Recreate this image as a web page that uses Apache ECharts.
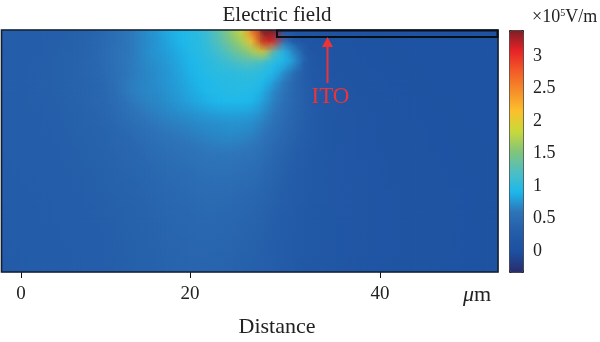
<!DOCTYPE html>
<html>
<head>
<meta charset="utf-8">
<style>html,body{margin:0;padding:0;background:#fff}#main{width:600px;height:342px}</style>
<script src="https://cdn.jsdelivr.net/npm/echarts@6/dist/echarts.min.js"></script>
</head>
<body>
<div id="main"></div>
<script>
// field values (x1e5 V/m), one row per 10px from the top
var row00 = [.30,.30,.30,.31,.32,.32,.33,.35,.38,.42,.48,.55,.62,.68,.74,.80,.88,.94,.98,1.05,1.20,1.40,1.65,1.90,2.70,3.40,3.40,.12,.10,.09,.09,.08,.08,.08,.07,.07,.07,.07,.06,.06,.06,.05,.05,.05,.05,.05,.05,.05];
var row01 = [.30,.30,.30,.31,.32,.33,.34,.36,.40,.45,.50,.56,.62,.68,.73,.78,.85,.92,.97,1.02,1.15,1.32,1.52,1.70,2.15,3.20,3.00,.60,.15,.12,.10,.09,.09,.08,.08,.07,.07,.07,.06,.06,.06,.05,.05,.05,.05,.05,.05,.05];
var row02 = [.30,.30,.31,.31,.32,.33,.35,.37,.40,.45,.52,.58,.62,.68,.74,.78,.82,.88,.95,1.00,1.08,1.20,1.35,1.48,1.65,1.95,1.20,.95,.65,.20,.14,.10,.09,.09,.08,.08,.07,.07,.07,.06,.06,.06,.05,.05,.05,.05,.05,.05];
var row03 = [.30,.30,.31,.32,.33,.34,.35,.38,.41,.45,.52,.58,.63,.68,.72,.75,.80,.86,.92,.98,1.02,1.08,1.16,1.25,1.25,1.10,.98,.90,.75,.25,.16,.12,.10,.09,.09,.08,.08,.07,.07,.07,.06,.06,.06,.05,.05,.05,.05,.05];
var row04 = [.30,.30,.31,.32,.33,.34,.36,.38,.41,.44,.50,.57,.62,.67,.70,.74,.78,.84,.90,.95,1.00,1.02,1.02,1.04,1.05,1.00,.92,.72,.45,.25,.17,.13,.11,.10,.09,.09,.08,.08,.07,.07,.07,.06,.06,.06,.05,.05,.05,.05];
var row05 = [.30,.30,.31,.32,.33,.34,.36,.38,.40,.43,.48,.57,.64,.68,.70,.74,.78,.82,.88,.92,.95,.98,1.00,1.00,1.00,.92,.78,.60,.42,.28,.20,.15,.12,.11,.10,.09,.09,.08,.08,.07,.07,.07,.06,.06,.06,.05,.05,.05];
var row06 = [.30,.30,.31,.32,.33,.34,.35,.38,.40,.42,.47,.55,.64,.68,.70,.72,.76,.80,.85,.90,.95,.96,.98,.97,.95,.85,.68,.55,.42,.30,.22,.17,.14,.12,.11,.10,.09,.09,.08,.08,.07,.07,.07,.06,.06,.06,.06,.05];
var row07 = [.30,.30,.31,.31,.32,.33,.35,.37,.39,.42,.46,.52,.60,.65,.68,.70,.74,.78,.82,.86,.90,.92,.93,.92,.90,.78,.65,.52,.42,.30,.22,.17,.15,.13,.12,.11,.10,.09,.09,.08,.08,.07,.07,.07,.06,.06,.06,.06];
var row08 = [.30,.30,.30,.31,.32,.33,.34,.36,.38,.40,.44,.50,.56,.61,.65,.68,.70,.73,.75,.78,.80,.82,.83,.82,.80,.72,.60,.50,.40,.30,.23,.18,.15,.14,.12,.11,.10,.10,.09,.08,.08,.08,.07,.07,.07,.06,.06,.06];
var row09 = [.29,.30,.30,.31,.32,.32,.34,.36,.37,.39,.42,.47,.52,.56,.60,.64,.66,.68,.70,.72,.73,.74,.75,.74,.72,.65,.55,.46,.38,.30,.23,.18,.16,.14,.13,.12,.11,.10,.09,.09,.08,.08,.07,.07,.07,.07,.06,.06];
var row10 = [.29,.30,.30,.30,.31,.32,.33,.35,.36,.38,.40,.43,.46,.51,.56,.60,.62,.64,.66,.68,.70,.71,.72,.70,.68,.60,.52,.44,.36,.29,.23,.19,.16,.14,.13,.12,.11,.10,.10,.09,.09,.08,.08,.07,.07,.07,.06,.06];
var row11 = [.29,.29,.30,.30,.31,.31,.32,.34,.35,.37,.39,.42,.44,.48,.52,.55,.57,.60,.62,.64,.66,.67,.67,.65,.62,.55,.48,.41,.34,.28,.23,.19,.16,.15,.13,.12,.11,.11,.10,.09,.09,.08,.08,.08,.07,.07,.07,.06];
var row12 = [.29,.29,.29,.30,.30,.31,.32,.33,.35,.36,.38,.40,.42,.45,.49,.52,.54,.56,.58,.60,.62,.62,.62,.60,.58,.51,.44,.37,.30,.26,.22,.19,.17,.15,.13,.12,.11,.11,.10,.10,.09,.09,.08,.08,.07,.07,.07,.07];
var row13 = [.28,.29,.29,.29,.30,.30,.31,.33,.34,.35,.37,.39,.41,.43,.46,.49,.51,.53,.55,.57,.58,.58,.58,.56,.54,.48,.41,.35,.29,.25,.22,.19,.17,.15,.14,.12,.12,.11,.10,.10,.09,.09,.08,.08,.08,.07,.07,.07];
var row14 = [.28,.28,.29,.29,.30,.30,.31,.32,.33,.34,.36,.38,.40,.42,.44,.47,.49,.50,.52,.54,.55,.55,.54,.52,.50,.45,.39,.33,.28,.24,.21,.19,.17,.15,.14,.13,.12,.11,.11,.10,.10,.09,.09,.08,.08,.07,.07,.07];
var row15 = [.28,.28,.28,.29,.29,.30,.30,.31,.32,.34,.35,.37,.38,.40,.43,.45,.47,.48,.50,.51,.52,.52,.51,.49,.47,.42,.37,.32,.27,.24,.21,.19,.17,.15,.14,.13,.12,.11,.11,.10,.10,.09,.09,.08,.08,.08,.07,.07];
var row16 = [.28,.28,.28,.28,.29,.29,.30,.31,.32,.33,.34,.36,.37,.39,.41,.44,.45,.46,.48,.49,.49,.49,.48,.46,.44,.40,.35,.30,.26,.23,.21,.19,.17,.15,.14,.13,.12,.12,.11,.10,.10,.09,.09,.09,.08,.08,.07,.07];
var row17 = [.27,.28,.28,.28,.28,.29,.30,.30,.31,.32,.33,.35,.36,.38,.40,.42,.44,.45,.46,.47,.47,.47,.46,.44,.42,.38,.34,.29,.26,.23,.20,.18,.17,.15,.14,.13,.12,.12,.11,.11,.10,.10,.09,.09,.08,.08,.07,.07];
var row18 = [.27,.27,.28,.28,.28,.29,.29,.30,.31,.32,.33,.34,.36,.37,.39,.41,.43,.44,.45,.46,.46,.45,.44,.42,.40,.36,.32,.28,.25,.22,.20,.18,.16,.15,.14,.13,.12,.12,.11,.11,.10,.10,.09,.09,.08,.08,.07,.07];
var row19 = [.27,.27,.27,.28,.28,.28,.29,.30,.30,.31,.32,.34,.35,.36,.38,.40,.42,.43,.44,.44,.44,.43,.42,.40,.38,.35,.31,.27,.24,.22,.20,.18,.16,.15,.14,.13,.12,.12,.11,.11,.10,.10,.09,.09,.08,.08,.07,.07];
var row20 = [.27,.27,.27,.27,.28,.28,.29,.29,.30,.31,.32,.33,.35,.36,.37,.39,.41,.42,.43,.43,.43,.42,.41,.39,.37,.34,.30,.27,.24,.21,.19,.18,.16,.15,.14,.13,.12,.12,.11,.11,.10,.10,.09,.09,.08,.08,.07,.07];
var row21 = [.26,.27,.27,.27,.28,.28,.28,.29,.30,.31,.32,.33,.34,.35,.37,.39,.40,.41,.42,.42,.42,.41,.40,.38,.36,.33,.30,.26,.23,.21,.19,.17,.16,.15,.14,.13,.12,.12,.11,.10,.10,.10,.09,.09,.08,.08,.07,.07];
var row22 = [.26,.26,.27,.27,.27,.28,.28,.29,.30,.30,.31,.33,.34,.35,.36,.38,.40,.41,.41,.41,.41,.40,.39,.37,.35,.32,.29,.26,.23,.21,.19,.17,.16,.14,.13,.13,.12,.11,.11,.10,.10,.09,.09,.09,.08,.08,.07,.07];
var row23 = [.26,.26,.27,.27,.27,.28,.28,.29,.29,.30,.31,.32,.34,.35,.36,.38,.39,.40,.41,.41,.40,.39,.38,.36,.34,.32,.29,.26,.23,.20,.19,.17,.16,.14,.13,.12,.12,.11,.11,.10,.10,.09,.09,.08,.08,.08,.07,.07];
var fieldRows = [row00,row01,row02,row03,row04,row05,row06,row07,row08,row09,row10,row11,row12,row13,row14,row15,row16,row17,row18,row19,row20,row21,row22,row23];

var xCols = row00.map(function(v,i){return i});
var yRows = fieldRows.map(function(v,i){return i});
var xTickPos = [0, 18.83, 40];       // the 20 tick sits left of the even spot in the original
var xTickLabels = ['0', '20', '40'];
var barTicks = [0, 0.5, 1, 1.5, 2, 2.5, 3];
var barColors = ['#2a2c6a','#1c4fa0','#245da9','#2e74b8','#1cb8ec','#4fbfc0','#82c47a','#c9d93a','#fcc02c','#f68e2a','#f25a27','#e72227','#7d1f25'];

var heat = [];
fieldRows.forEach(function(r,j){
    r.forEach(function(v,i){ heat.push([i,j,v]) })
})

// soft round patch per cell, hides the blocks of the heatmap below
function softCell(params, api){
    var p = api.coord([api.value(0), api.value(1)]);
    var s = api.size([1, 1]);
    var c = api.visual('color');
    return {
        type: 'rect',
        shape: {x: p[0]-s[0]*1.5, y: p[1]-s[1]*1.5, width: s[0]*3, height: s[1]*3},
        style: {
            fill: new echarts.graphic.RadialGradient(0.5, 0.5, 0.5, [
                {offset: 0, color: echarts.color.modifyAlpha(c, 0.85)},
                {offset: 1, color: echarts.color.modifyAlpha(c, 0)}
            ])
        }
    };
}

var serif = '"Liberation Serif", serif';
var red = '#ee3336';
var myC = echarts.init(document.getElementById('main'));
myC.setOption({
    backgroundColor: '#fff',
    animation: false,
    grid: [
        {left: 2, top: 30, width: 496, height: 242},
        {left: 509, top: 30, width: 14, height: 242}
    ],
    xAxis: [
        {type: 'category', data: xCols, gridIndex: 0, show: false},
        {
            type: 'value', gridIndex: 0, position: 'bottom', min: -2.117, max: 53.15,
            splitLine: {show: false},
            axisLine: {show: false},
            axisTick: {show: true, customValues: xTickPos, length: 6, lineStyle: {color: '#111', width: 1}},
            axisLabel: {
                customValues: xTickPos, margin: 13, color: '#222', fontFamily: serif, fontSize: 19,
                formatter: function(v){ return xTickLabels[xTickPos.indexOf(v)] }
            }
        },
        {type: 'value', gridIndex: 1, show: false}
    ],
    yAxis: [
        {type: 'category', data: yRows, gridIndex: 0, inverse: true, show: false},
        {
            type: 'value', gridIndex: 1, position: 'right', min: -0.32, max: 3.4,
            splitLine: {show: false},
            axisLine: {show: false},
            axisTick: {show: true, customValues: barTicks, length: 5, lineStyle: {color: '#111', width: 1}},
            axisLabel: {customValues: barTicks, margin: 10, color: '#222', fontFamily: serif, fontSize: 18}
        }
    ],
    visualMap: {
        type: 'continuous', min: -0.32, max: 3.4, seriesIndex: [0, 2], dimension: 2,
        left: 509, top: 30, itemWidth: 14, itemHeight: 242, padding: 0,
        calculable: false, showLabel: false, text: null,
        borderColor: '#222', borderWidth: 1,
        inRange: {color: barColors}
    },
    series: [
        {type: 'heatmap', xAxisIndex: 0, yAxisIndex: 0, data: heat, progressive: 0, itemStyle: {borderWidth: 0}},
        {type: 'line', xAxisIndex: 2, yAxisIndex: 1, data: [], silent: true},
        {type: 'custom', xAxisIndex: 0, yAxisIndex: 0, data: heat, renderItem: softCell, clip: true, silent: true, progressive: 0, encode: {x: 0, y: 1}}
    ],
    graphic: [
        {type: 'rect', z: 100, shape: {x: 1.5, y: 30, width: 496.5, height: 242}, style: {fill: 'none', stroke: '#14202e', lineWidth: 1.6}},
        {type: 'rect', z: 100, shape: {x: 277, y: 30.5, width: 220.5, height: 6.5}, style: {fill: 'none', stroke: '#0b1018', lineWidth: 2}},
        {type: 'line', z: 100, shape: {x1: 327.5, y1: 83, x2: 327.5, y2: 44}, style: {stroke: red, lineWidth: 2}},
        {type: 'polygon', z: 100, shape: {points: [[327.5,37],[322,47],[333,47]]}, style: {fill: red}},
        {type: 'text', z: 100, x: 330.5, y: 97, style: {text: 'ITO', fill: red, font: '23px ' + serif, align: 'center', verticalAlign: 'middle'}},
        {type: 'text', z: 100, x: 277, y: 15, style: {text: 'Electric field', fill: '#222', font: '21px ' + serif, align: 'center', verticalAlign: 'middle'}},
        {type: 'text', z: 100, x: 277, y: 327, style: {text: 'Distance', fill: '#222', font: '22px ' + serif, align: 'center', verticalAlign: 'middle'}},
        {type: 'text', z: 100, x: 463, y: 295, style: {
            text: '{i|\u03bc}{n|m}', verticalAlign: 'middle',
            rich: {i: {font: 'italic 22px ' + serif, fill: '#222'}, n: {font: '22px ' + serif, fill: '#222'}}
        }},
        {type: 'text', z: 100, x: 532, y: 17, style: {
            text: '{n|\u00d710}{s|5}{n|V/m}', verticalAlign: 'middle',
            rich: {n: {font: '18px ' + serif, fill: '#222'}, s: {font: '10px ' + serif, fill: '#222', verticalAlign: 'top'}}
        }}
    ]
});
</script>
</body>
</html>
